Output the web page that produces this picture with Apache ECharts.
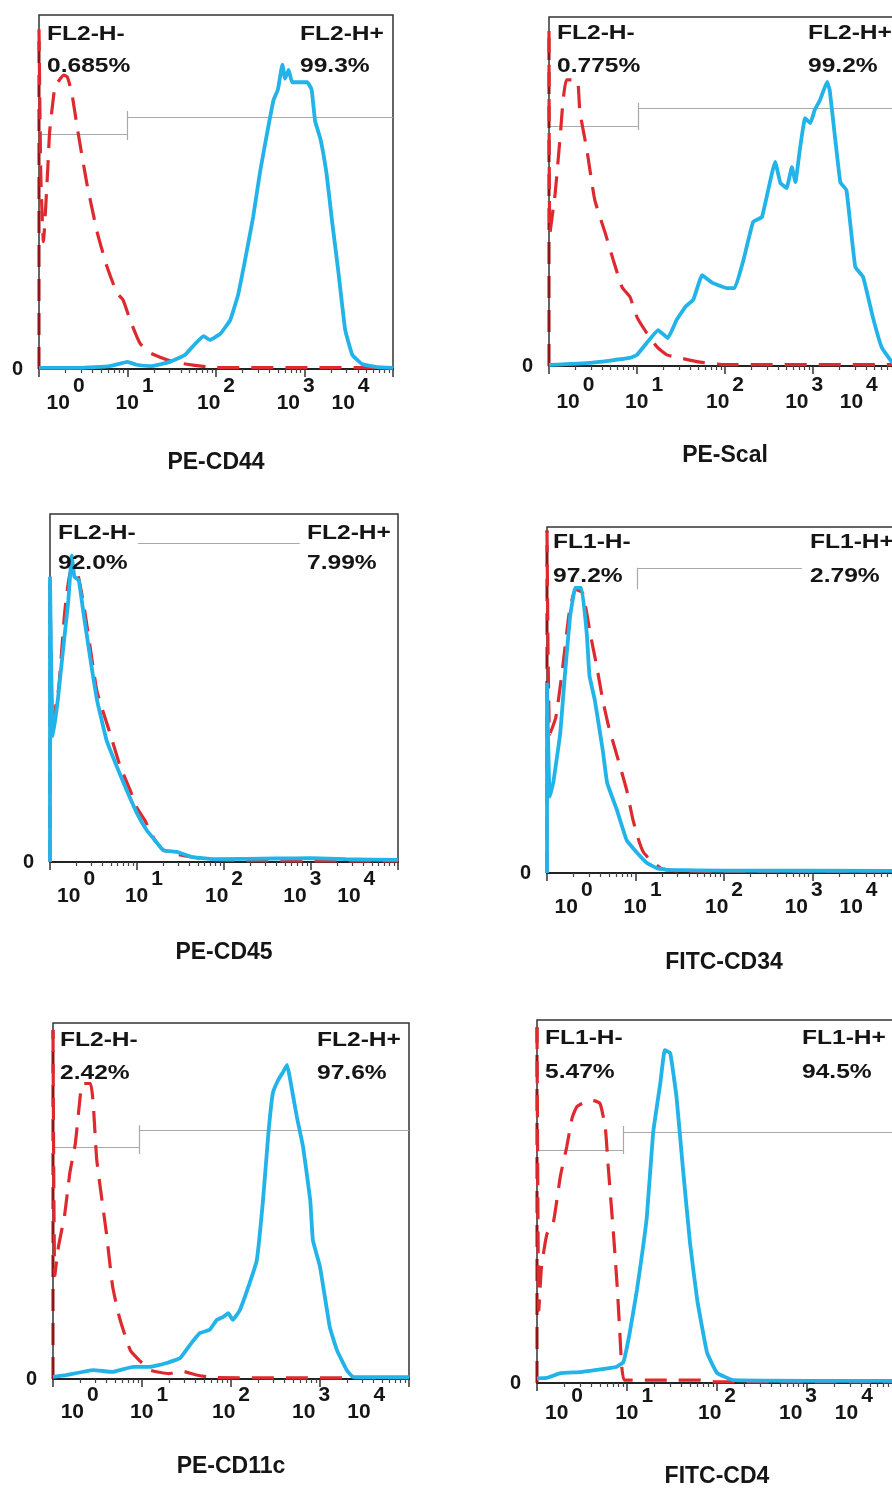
<!DOCTYPE html>
<html><head><meta charset="utf-8">
<script src="https://cdn.jsdelivr.net/npm/echarts@6/dist/echarts.min.js"></script>
<style>html,body{margin:0;padding:0;background:#fff}#c{width:892px;height:1488px}</style>
</head><body><div id="c"></div>
<script>
// ---------------- DATA ----------------
const panelTitles = ['PE-CD44', 'PE-Scal', 'PE-CD45', 'FITC-CD34', 'PE-CD11c', 'FITC-CD4'];
const negGateNames = ['FL2-H-', 'FL2-H-', 'FL2-H-', 'FL1-H-', 'FL2-H-', 'FL1-H-'];
const posGateNames = ['FL2-H+', 'FL2-H+', 'FL2-H+', 'FL1-H+', 'FL2-H+', 'FL1-H+'];
const negPercents = ['0.685%', '0.775%', '92.0%', '97.2%', '2.42%', '5.47%'];
const posPercents = ['99.3%', '99.2%', '7.99%', '2.79%', '97.6%', '94.5%'];
const decadeTicks = [0, 1, 2, 3, 4];
const decadeExponents = ['0', '1', '2', '3', '4'];
const countTickLabels = ['0'];

// x = log10 fluorescence (decades), y = % of full count scale
const cd44Control = [[0,0],[0,96],[0.02,55],[0.05,36],[0.1,57],[0.12,67],[0.18,80],[0.21,81],[0.28,83],[0.32,82.5],[0.37,78],[0.44,67],[0.54,52.5],[0.66,38.4],[0.77,28.8],[0.88,21.5],[0.95,19.5],[1.03,13.8],[1.14,7.3],[1.26,4.5],[1.52,2],[1.74,1.1],[2.0,0.4],[4,0.4]];
const cd44Stained = [[0,0.3],[0.46,0.3],[0.8,0.8],[1.0,2],[1.1,1.2],[1.26,0.8],[1.48,2],[1.65,4],[1.76,7],[1.86,9.3],[1.93,8.2],[2.05,10],[2.16,13.8],[2.25,21],[2.33,31],[2.42,43],[2.5,56],[2.58,67],[2.65,76],[2.7,79],[2.75,86],[2.78,82],[2.82,84.5],[2.86,81],[2.95,81],[3.03,81],[3.08,79],[3.12,70],[3.18,65],[3.25,55],[3.31,42],[3.38,28],[3.46,11],[3.54,4],[3.65,1.4],[3.8,0.6],[4,0.3]];

const scaControl = [[0,0],[0,96],[0.01,38],[0.07,49.5],[0.13,66.7],[0.16,76],[0.2,82],[0.32,82],[0.35,73],[0.43,62],[0.52,47.6],[0.64,38],[0.73,30.4],[0.83,22.6],[0.92,19.8],[1.0,14],[1.11,9.5],[1.23,5.4],[1.34,3.2],[1.49,2.3],[1.72,1.1],[2.0,0.4],[4,0.4]];
const scaStained = [[0,0.3],[0.47,0.9],[0.92,2.3],[1.0,3.2],[1.11,6.6],[1.24,10.3],[1.35,8],[1.45,13.2],[1.55,17],[1.64,19],[1.74,26],[1.86,23.8],[2.02,22.3],[2.11,22.3],[2.21,30.4],[2.32,41.3],[2.42,42.7],[2.57,58.5],[2.63,52.4],[2.7,51],[2.76,57],[2.8,52.7],[2.85,61.9],[2.91,71],[2.97,69.6],[3.02,73.4],[3.08,76.2],[3.16,81.4],[3.19,79],[3.31,52.7],[3.38,50.4],[3.48,28.4],[3.57,25.5],[3.68,14],[3.78,5.4],[3.9,1.1],[4,0.5]];

const cd45Control = [[0,0],[0,80],[0.03,40],[0.1,50],[0.17,72],[0.24,84],[0.3,84],[0.38,75],[0.46,62],[0.54,49],[0.69,37],[0.8,28],[0.92,20.7],[1.0,15.5],[1.09,12],[1.2,6.5],[1.3,3.5],[1.5,2],[1.8,0.8],[2.2,0.4],[4,0.3]];
const cd45Stained = [[0,0],[0,82],[0.03,36],[0.09,46.6],[0.15,61],[0.21,75],[0.25,88],[0.28,82],[0.33,81],[0.38,72.4],[0.46,59],[0.54,46.6],[0.65,35],[0.77,27.3],[0.88,20.7],[1.0,14],[1.11,9.2],[1.23,5.5],[1.3,3.4],[1.46,2.9],[1.64,1.4],[1.92,0.8],[2.6,1],[3.0,1.1],[3.4,0.8],[4,0.6]];

const cd34Control = [[0,0],[0,99],[0.03,40],[0.1,45],[0.18,60],[0.25,75],[0.32,82],[0.4,81],[0.45,75],[0.49,69],[0.56,60],[0.63,50],[0.7,42],[0.79,34],[0.9,24],[0.97,15.5],[1.03,10],[1.09,6],[1.2,3],[1.3,1.2],[1.5,0.6],[4,0.5]];
const cd34Stained = [[0,0],[0,55],[0.03,22],[0.07,26],[0.15,40.5],[0.2,56.6],[0.26,74],[0.32,82.4],[0.39,82.4],[0.45,69],[0.48,57],[0.54,50],[0.63,35.5],[0.68,26],[0.79,18.2],[0.9,9.5],[1.02,5.8],[1.13,2.9],[1.24,1.4],[1.36,0.9],[2,0.7],[4,0.6]];

const cd11cControl = [[0,0],[0,98],[0.02,29],[0.06,37],[0.13,46],[0.19,58],[0.25,66],[0.3,78],[0.33,83],[0.42,83],[0.45,78],[0.49,62],[0.53,54],[0.6,41],[0.67,26],[0.75,17],[0.87,8],[0.98,5],[1.09,2.5],[1.3,1.5],[1.45,2.2],[1.6,1.2],[1.8,0.4],[4,0.3]];
const cd11cStained = [[0,0.6],[0.15,1.1],[0.45,2.5],[0.67,2],[0.9,3.4],[1.09,3.4],[1.28,4.5],[1.43,5.9],[1.54,9.6],[1.65,12.9],[1.76,13.8],[1.84,16.6],[1.91,17.4],[1.97,18.5],[2.02,16.6],[2.1,19.4],[2.21,27],[2.29,33.4],[2.36,50.3],[2.42,69],[2.47,80.3],[2.53,84],[2.58,86],[2.63,88.2],[2.66,84.8],[2.74,73.6],[2.81,65.2],[2.89,50.3],[2.92,39],[3.0,31.5],[3.11,14.6],[3.19,8.1],[3.3,2.5],[3.37,0.6],[4,0.5]];

const cd4Control = [[0,0],[0,98],[0.02,20],[0.05,32],[0.11,41],[0.18,44],[0.26,57],[0.33,65],[0.39,73],[0.44,76],[0.5,77],[0.6,78],[0.7,77],[0.76,70],[0.79,60],[0.85,41],[0.89,27],[0.92,14],[0.94,5],[0.97,0.8],[1.2,0.8],[1.5,0.8],[1.8,0.8],[2.0,0.3],[4,0.3]];
const cd4Stained = [[0,1.3],[0.11,1.4],[0.26,2.7],[0.48,3],[0.66,3.6],[0.88,4.4],[0.96,5.8],[1.03,13.8],[1.11,25.6],[1.22,45.7],[1.29,68.9],[1.37,82.6],[1.42,91.7],[1.48,90.9],[1.55,78.8],[1.62,59.5],[1.7,38.6],[1.78,22.9],[1.89,8.3],[2.0,2.8],[2.18,0.8],[4,0.6]];

// gate markers (decades, % scale)
const cd44Gates = [[[0,66.4],[1.0,66.4]], [[1.0,71.2],[4,71.2]], [[1.0,64.7],[1.0,72.9]]];
const scaGates = [[[0,68.8],[1.01,68.8]], [[1.01,73.9],[4,73.9]], [[1.01,67.6],[1.01,75.4]]];
const cd45Gates = [[[1.01,91.7],[2.87,91.7]]];
const cd34Gates = [[[1.02,88.2],[2.88,88.2]], [[1.02,88.2],[1.02,82]]];
const cd11cGates = [[[0,65.2],[0.97,65.2]], [[0.97,69.9],[4,69.9]], [[0.97,63.2],[0.97,71.3]]];
const cd4Gates = [[[0,64.2],[0.96,64.2]], [[0.96,69.1],[4,69.1]], [[0.96,63.1],[0.96,70.8]]];

const controls = [cd44Control, scaControl, cd45Control, cd34Control, cd11cControl, cd4Control];
const stained = [cd44Stained, scaStained, cd45Stained, cd34Stained, cd11cStained, cd4Stained];
const gates = [cd44Gates, scaGates, cd45Gates, cd34Gates, cd11cGates, cd4Gates];

// ---------------- LAYOUT / STYLE ----------------
const FONT = '"Liberation Sans", Arial, sans-serif';
const layout = [
  {left: 39,  top: 15,   width: 354, height: 354, nameGap: 94, labelMargin: 7,  textX: [47, 300],  textY: [34, 66]},
  {left: 549, top: 17,   width: 352, height: 349, nameGap: 90, labelMargin: 9,  textX: [557, 808], textY: [33, 66]},
  {left: 50,  top: 514,  width: 348, height: 348, nameGap: 91, labelMargin: 7,  textX: [58, 307],  textY: [533, 563]},
  {left: 547, top: 527,  width: 354, height: 346, nameGap: 90, labelMargin: 7,  textX: [553, 810], textY: [542, 576]},
  {left: 53,  top: 1023, width: 356, height: 356, nameGap: 88, labelMargin: 6,  textX: [60, 317],  textY: [1040, 1073]},
  {left: 537, top: 1020, width: 360, height: 363, nameGap: 94, labelMargin: 3,  textX: [545, 802], textY: [1038, 1072]}
];
const labelPos = [0.3, 1.08, 2.0, 2.9, 3.52];
const minorTicks = [];
for (let d = 0; d < 4; d++) for (let k = 2; k <= 9; k++) minorTicks.push(d + Math.log10(k));

const BLUE = '#22B3E8', RED = '#DE2A2E', DARKRED = '#8E1616', TXT = '#151515';

const option = {animation: false, backgroundColor: '#fff', grid: [], xAxis: [], yAxis: [], series: [], graphic: []};

layout.forEach((L, i) => {
  option.grid.push({left: L.left, top: L.top, width: L.width, height: L.height, show: true,
    borderColor: '#333', borderWidth: 1.5, backgroundColor: 'transparent', containLabel: false, outerBoundsMode: 'none'});
  option.xAxis.push({
    type: 'value', gridIndex: i, min: 0, max: 4, position: 'bottom',
    name: panelTitles[i], nameLocation: 'middle', nameGap: L.nameGap,
    nameTextStyle: {fontFamily: FONT, fontWeight: 'bold', fontSize: 23, color: TXT, verticalAlign: 'middle'},
    axisLine: {show: true, onZero: false, lineStyle: {color: '#222', width: 2}},
    axisTick: {show: true, customValues: decadeTicks, length: 8, lineStyle: {color: '#333', width: 1.5}},
    axisLabel: {show: false}, splitLine: {show: false}
  });
  option.xAxis.push({
    type: 'value', gridIndex: i, min: 0, max: 4, position: 'bottom',
    axisLine: {show: false},
    axisTick: {show: true, customValues: minorTicks, length: 4, lineStyle: {color: '#444', width: 1.2}},
    axisLabel: {
      show: true, customValues: labelPos, margin: L.labelMargin, hideOverlap: false,
      formatter: function (v) {
        let idx = 0, best = 1e9;
        labelPos.forEach((p, j) => { const dd = Math.abs(p - v); if (dd < best) { best = dd; idx = j; } });
        return '{b|10}{s|' + decadeExponents[idx] + '}';
      },
      rich: {
        b: {fontFamily: FONT, fontWeight: 'bold', fontSize: 21, color: TXT, lineHeight: 38, verticalAlign: 'bottom'},
        s: {fontFamily: FONT, fontWeight: 'bold', fontSize: 21, color: TXT, lineHeight: 38, verticalAlign: 'top', padding: [0, 0, 0, 3]}
      }
    },
    splitLine: {show: false}
  });
  option.yAxis.push({
    type: 'value', gridIndex: i, min: 0, max: 100,
    axisLine: {show: false}, axisTick: {show: false}, splitLine: {show: false},
    axisLabel: {customValues: [0], formatter: () => countTickLabels[0], margin: 16,
      fontFamily: FONT, fontWeight: 'bold', fontSize: 20, color: TXT, padding: [0, 0, 14, 0]}
  });
  option.series.push({
    type: 'lines', coordinateSystem: 'cartesian2d', xAxisIndex: 2 * i, yAxisIndex: i, silent: true, z: 1,
    data: gates[i].map(s => ({coords: s})),
    lineStyle: {color: '#A9A9A9', width: 1.2, opacity: 1, curveness: 0}
  });
  option.series.push({
    type: 'line', xAxisIndex: 2 * i, yAxisIndex: i, data: controls[i].slice(0, 2), showSymbol: false, symbol: 'none',
    z: 3, lineStyle: {color: DARKRED, width: 3, type: [22, 12]}, silent: true
  });
  option.series.push({
    type: 'line', xAxisIndex: 2 * i, yAxisIndex: i, data: controls[i].slice(1), showSymbol: false, symbol: 'none',
    smooth: 0.15, z: 3, lineStyle: {color: RED, width: 3.2, type: [22, 12]}, silent: true
  });
  option.series.push({
    type: 'line', xAxisIndex: 2 * i, yAxisIndex: i, data: stained[i], showSymbol: false, symbol: 'none',
    smooth: 0.1, z: 4, lineStyle: {color: BLUE, width: 3.8}, silent: true
  });
  const texts = [[negGateNames[i], L.textX[0], L.textY[0]], [negPercents[i], L.textX[0], L.textY[1]],
                 [posGateNames[i], L.textX[1], L.textY[0]], [posPercents[i], L.textX[1], L.textY[1]]];
  texts.forEach(([t, x, y]) => option.graphic.push({
    type: 'text', x: x, y: y, scaleX: 1.17, z: 100,
    style: {text: t, x: 0, y: 0, font: 'bold 21px ' + FONT, fill: TXT,
      textAlign: 'left', align: 'left', textVerticalAlign: 'middle', verticalAlign: 'middle'}
  }));
});

const chart = echarts.init(document.getElementById('c'), null, {renderer: 'canvas'});
chart.setOption(option);
</script>
</body></html>
